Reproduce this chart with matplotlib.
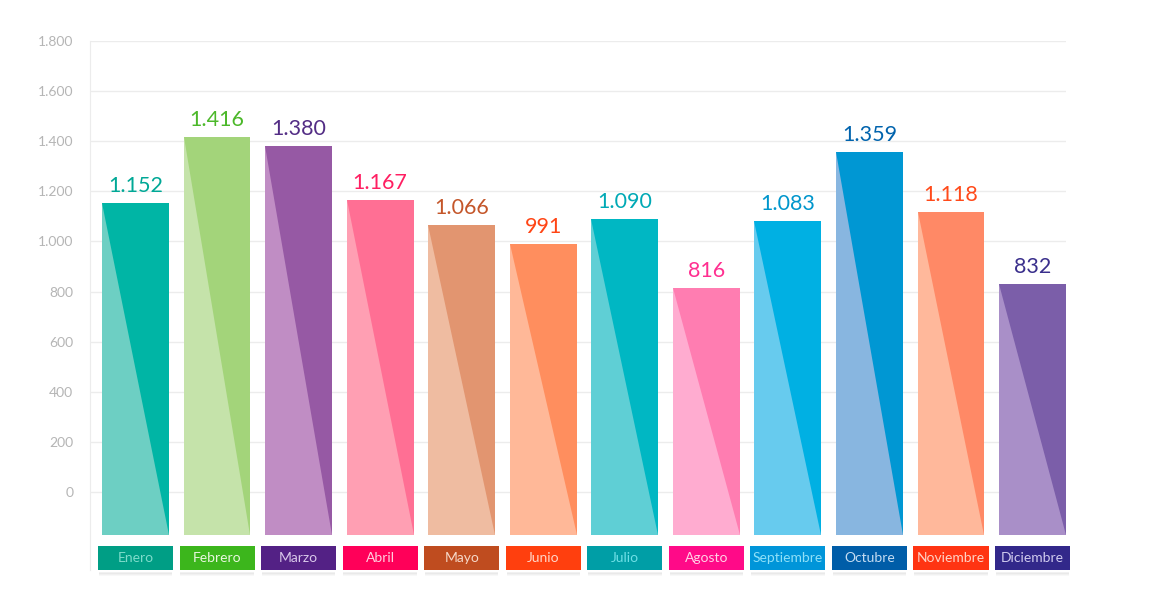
import matplotlib.pyplot as plt
from matplotlib.patches import Polygon

months = ['Enero', 'Febrero', 'Marzo', 'Abril', 'Mayo', 'Junio', 'Julio',
          'Agosto', 'Septiembre', 'Octubre', 'Noviembre', 'Diciembre']
values = [1152, 1416, 1380, 1167, 1066, 991, 1090, 816, 1083, 1359, 1118, 832]
yticks = [0, 200, 400, 600, 800, 1000, 1200, 1400, 1600, 1800]

dark = ['#00b5a5', '#a3d47a', '#9659a4', '#ff6f94', '#e29570', '#ff8e5e',
        '#00b7c3', '#ff7db1', '#00b0e3', '#0097d3', '#ff8966', '#7b5ea9']
light = ['#6dcfc3', '#c5e3aa', '#c08dc4', '#ff9fb3', '#efbca1', '#ffb898',
         '#5fcfd5', '#ffacd0', '#67cbee', '#88b6e0', '#ffb89b', '#a98fc8']
box = ['#009e85', '#3cb61c', '#532185', '#ff0059', '#bf4c1f', '#ff3f0e',
       '#009ea6', '#ff0a88', '#0095d9', '#005da8', '#ff3412', '#32288a']
box_text = ['#7fdccb', '#eaf7e0', '#d9c8ea', '#ffd0df', '#f6d8c8', '#ffd6c8',
            '#6fe0e6', '#ffd1e6', '#8fe0f8', '#c5dcf2', '#ffd3c6', '#d0cbee']
value_color = ['#00a896', '#4cb82a', '#532d85', '#ff1f62', '#c4562a', '#ff4515',
               '#00a9b5', '#ff2f90', '#0096cc', '#0063ad', '#ff4a1a', '#3a2f8c']

plt.rcParams['font.family'] = ['Lato', 'DejaVu Sans']

fig = plt.figure(figsize=(11.5, 6.15), dpi=100)
ax = fig.add_axes([90 / 1150, 1 - 570 / 615, (1066 - 90) / 1150, (570 - 41) / 615])

x = list(range(len(months)))
base = -172
heights = [v - base for v in values]
bars = ax.bar(x, heights, bottom=base, width=0.82, color=dark, zorder=2)

# lighter lower-left triangle on each bar
for b, c in zip(bars, light):
    x0, y0 = b.get_x(), b.get_y()
    x1, y1 = x0 + b.get_width(), y0 + b.get_height()
    ax.add_patch(Polygon([(x0, y1), (x0, y0), (x1, y0)], closed=True,
                         facecolor=c, edgecolor='none', zorder=3))

for xi, v, c in zip(x, values, value_color):
    ax.annotate(f'{v:,}'.replace(',', '.'), (xi, v), xytext=(0, 5),
                textcoords='offset points', ha='center', va='bottom',
                fontsize=15.5, color=c, zorder=4)

# month label boxes with a soft shadow
ax.bar(x, [-96] * 12, bottom=-215, width=0.92, color=box, zorder=2, clip_on=False)
for k, a in enumerate([0.10, 0.16, 0.10, 0.05]):
    ax.bar(x, [-4] * 12, bottom=-318 - 4 * k, width=0.9, color='#777777',
           alpha=a, zorder=1, clip_on=False, linewidth=0)
for xi, m, c in zip(x, months, box_text):
    ax.text(xi, -263, m, ha='center', va='center', fontsize=10, color=c,
            zorder=4, clip_on=False)

ax.set_xlim(-0.558, 11.41)
ax.set_ylim(-311, 1800)
ax.set_yticks(yticks)
ax.set_yticklabels([f'{t:,}'.replace(',', '.') for t in yticks])
ax.set_xticks([])
ax.tick_params(axis='y', length=0, pad=12, labelsize=10, labelcolor='#b5b5b5')
for t in yticks:
    ax.axhline(t, color='#ececec', linewidth=1, zorder=0)
for side in ['top', 'right', 'bottom']:
    ax.spines[side].set_visible(False)
ax.spines['left'].set_color('#ececec')

fig.savefig('out.png', dpi=100, facecolor='white')
